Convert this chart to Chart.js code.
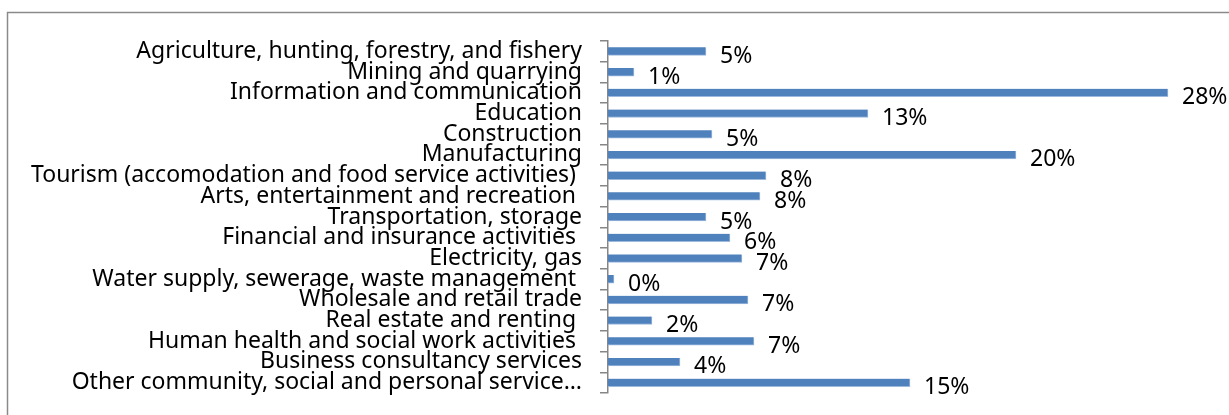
<!DOCTYPE html>
<html>
<head>
<meta charset="utf-8">
<script src="https://cdn.jsdelivr.net/npm/chart.js@4/dist/chart.umd.min.js"></script>
<style>
  html, body { margin: 0; padding: 0; background: #fff; }
  #wrap { width: 1229px; height: 415px; }
</style>
</head>
<body>
<div id="wrap"><canvas id="sectorChart" width="1229" height="415"></canvas></div>
<script>
// sectors, top to bottom
const sectors = [
  'Agriculture, hunting, forestry, and fishery',
  'Mining and quarrying',
  'Information and communication',
  'Education',
  'Construction',
  'Manufacturing',
  'Tourism (accomodation and food service activities) ',
  'Arts, entertainment and recreation ',
  'Transportation, storage',
  'Financial and insurance activities ',
  'Electricity, gas',
  'Water supply, sewerage, waste management ',
  'Wholesale and retail trade',
  'Real estate and renting ',
  'Human health and social work activities ',
  'Business consultancy services',
  'Other community, social and personal service\u2026'
];

// share of companies, percent
const shares = [4.9, 1.3, 28.0, 13.0, 5.2, 20.4, 7.9, 7.6, 4.9, 6.1, 6.7, 0.3, 7.0, 2.2, 7.3, 3.6, 15.1];

const fontFamily = '"Noto Sans", "Open Sans", sans-serif';
const fontSize = 23;

// value labels to the right of each bar
const barLabels = {
  id: 'barLabels',
  afterDatasetsDraw(chart) {
    const ctx = chart.ctx;
    const meta = chart.getDatasetMeta(0);
    ctx.save();
    ctx.font = fontSize + 'px ' + fontFamily;
    ctx.fillStyle = '#000';
    ctx.textAlign = 'left';
    ctx.textBaseline = 'middle';
    meta.data.forEach((bar, i) => {
      ctx.fillText(Math.round(shares[i]) + '%', bar.x + 14, bar.y + 5);
    });
    ctx.restore();
  }
};

// outer chart frame (left and top edges visible)
const frame = {
  id: 'frame',
  beforeDraw(chart) {
    const ctx = chart.ctx;
    ctx.save();
    ctx.strokeStyle = '#8a8a8a';
    ctx.lineWidth = 1.5;
    ctx.beginPath();
    ctx.moveTo(7.5, 415);
    ctx.lineTo(7.5, 12.5);
    ctx.lineTo(1229, 12.5);
    ctx.stroke();
    ctx.restore();
  }
};

new Chart(document.getElementById('sectorChart').getContext('2d'), {
  type: 'bar',
  data: {
    labels: sectors,
    datasets: [{
      data: shares,
      backgroundColor: '#4F81BD',
      borderColor: '#9DB9DC',
      borderWidth: { bottom: 1, right: 1, top: 0, left: 0 },
      borderSkipped: 'left',
      barThickness: 8
    }]
  },
  options: {
    indexAxis: 'y',
    responsive: false,
    animation: false,
    layout: { padding: { top: 41, bottom: 22, right: 21, left: 0 } },
    plugins: { legend: { display: false }, tooltip: { enabled: false } },
    scales: {
      x: { display: false, min: 0, max: 30 },
      y: {
        offset: true,
        afterFit(scale) {
          scale.width = 608;
          scale.paddingTop = 0;
          scale.paddingBottom = 0;
        },
        grid: {
          offset: true,
          drawOnChartArea: false,
          tickLength: 8,
          color: '#868686',
          lineWidth: 1.5
        },
        border: { color: '#868686', width: 1.5 },
        ticks: {
          color: '#000',
          padding: 18,
          autoSkip: false,
          font: { family: fontFamily, size: fontSize }
        }
      }
    }
  },
  plugins: [frame, barLabels]
});
</script>
</body>
</html>
